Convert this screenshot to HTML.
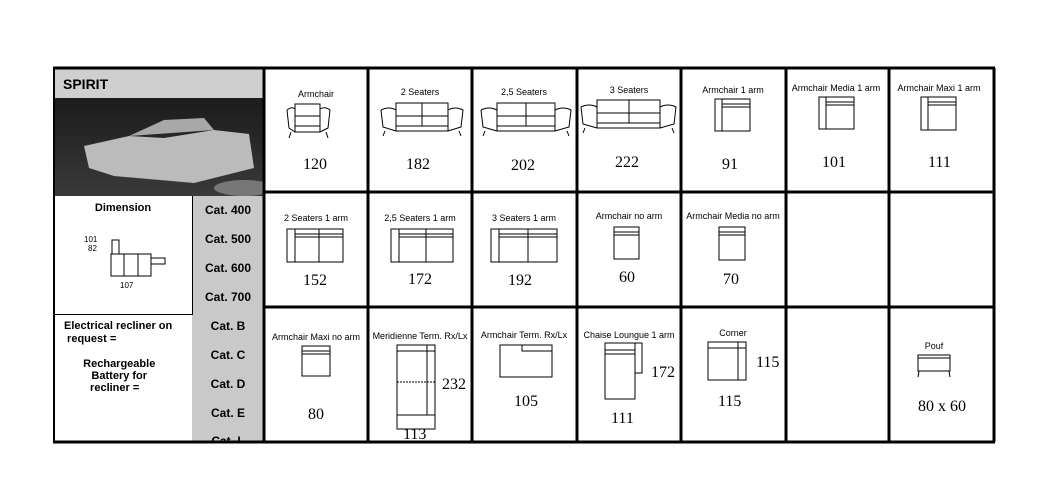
<!DOCTYPE html>
<html><head><meta charset="utf-8"><style>
body{margin:0;width:1043px;height:490px;background:#fff;position:relative;overflow:hidden;font-family:"Liberation Sans",sans-serif}
.a{position:absolute}
.lbl{position:absolute;font-size:9px;text-align:center;width:104px}
.num{position:absolute;font-family:"Liberation Serif",serif;font-size:16px}
.cat{position:absolute;left:0;width:72px;text-align:center;font-weight:bold;font-size:12px}
</style></head><body>
<div class="a" style="left:54px;top:69px;width:210px;height:29px;background:#cfcfcf"></div>
<div class="a" style="left:63px;top:76px;font-weight:bold;font-size:14px">SPIRIT</div>
<div class="a" style="left:54px;top:98px;width:210px;height:98px;background:linear-gradient(180deg,#1c1c1c,#2a2a2a 50%,#3a3a3a)"></div>
<svg class="a" style="left:54px;top:98px" width="210" height="98">
<path d="M30 48 L75 38 L110 40 L160 32 L195 36 L200 70 L140 85 L60 78 L35 70 Z" fill="#bbb"/>
<path d="M75 38 L110 22 L150 20 L160 32" fill="#a8a8a8"/>
<ellipse cx="190" cy="90" rx="30" ry="8" fill="#777"/>
</svg>
<div class="a" style="left:192px;top:196px;width:72px;height:246px;background:#c9c9c9;overflow:hidden">
<div class="cat" style="top:7px">Cat. 400</div>
<div class="cat" style="top:36px">Cat. 500</div>
<div class="cat" style="top:65px">Cat. 600</div>
<div class="cat" style="top:94px">Cat. 700</div>
<div class="cat" style="top:123px">Cat. B</div>
<div class="cat" style="top:152px">Cat. C</div>
<div class="cat" style="top:181px">Cat. D</div>
<div class="cat" style="top:210px">Cat. E</div>
<div class="cat" style="top:238px">Cat. L</div>
</div>
<div class="a" style="left:54px;top:196px;width:138px;height:118px;border-bottom:1px solid #000;border-right:1px solid #000"></div>
<div class="a" style="left:54px;top:202px;width:138px;text-align:center;font-weight:bold;font-size:11px">Dimension</div>
<svg class="a" style="left:84px;top:232px" width="90" height="60" font-size="8" font-family="Liberation Sans">
<text x="0" y="10">101</text><text x="4" y="19">82</text>
<rect x="27" y="22" width="40" height="22" fill="none" stroke="#000"/>
<line x1="40" y1="22" x2="40" y2="44" stroke="#000"/><line x1="54" y1="22" x2="54" y2="44" stroke="#000"/>
<rect x="28" y="8" width="7" height="14" fill="none" stroke="#000"/>
<rect x="67" y="26" width="14" height="6" fill="none" stroke="#000"/>
<text x="36" y="56">107</text>
</svg>
<div class="a" style="left:64px;top:320px;font-weight:bold;font-size:11px;line-height:13px">Electrical recliner on<br>&nbsp;request =</div>
<div class="a" style="left:74px;top:358px;font-weight:bold;font-size:11px;line-height:12px;text-align:center">&nbsp;&nbsp;&nbsp;Rechargeable<br>&nbsp;&nbsp;&nbsp;Battery for<br>recliner =</div>

<svg class="a" style="left:0;top:0" width="1043" height="490">
<g stroke="#000" stroke-width="3" fill="none">
<line x1="53" y1="68" x2="995" y2="68"/>
<line x1="264" y1="192" x2="995" y2="192"/>
<line x1="264" y1="307" x2="995" y2="307"/>
<line x1="53" y1="442" x2="995" y2="442"/>
<line x1="54" y1="68" x2="54" y2="442" stroke-width="2"/>
<line x1="264" y1="68" x2="264" y2="442"/>
<line x1="368" y1="68" x2="368" y2="442"/>
<line x1="472" y1="68" x2="472" y2="442"/>
<line x1="577" y1="68" x2="577" y2="442"/>
<line x1="681" y1="68" x2="681" y2="442"/>
<line x1="786" y1="68" x2="786" y2="442"/>
<line x1="889" y1="68" x2="889" y2="442"/>
<line x1="994" y1="68" x2="994" y2="442"/>
</g>
<g stroke="#000" stroke-width="1" fill="none">
<g transform="translate(287,104)"><rect x="8" y="0" width="25" height="12"/><rect x="8" y="12" width="25" height="10"/><path d="M0 6 Q5 2 8 5 L8 28 L33 28 L33 5 Q38 2 43 6 L41 24 L33 28 M0 6 L2 24 L8 28 M4 28 L2 34 M39 28 L41 34"/></g>
<g transform="translate(381,103)"><rect x="15" y="0" width="52" height="13"/><rect x="15" y="13" width="52" height="10"/><line x1="41" y1="0" x2="41" y2="23"/><path d="M0 7 Q8 3 15 7 L15 28 L67 28 L67 7 Q74 3 82 7 L80 24 L67 28 M0 7 L2 24 L15 28 M4 28 L2 33 M78 28 L80 33"/></g>
<g transform="translate(481,103)"><rect x="16" y="0" width="58" height="13"/><rect x="16" y="13" width="58" height="10"/><line x1="45" y1="0" x2="45" y2="23"/><path d="M0 7 Q8 3 16 7 L16 28 L74 28 L74 7 Q82 3 90 7 L88 24 L74 28 M0 7 L2 24 L16 28 M4 28 L2 33 M86 28 L88 33"/></g>
<g transform="translate(581,100)"><rect x="16" y="0" width="63" height="13"/><rect x="16" y="13" width="63" height="10"/><line x1="48" y1="0" x2="48" y2="23"/><path d="M0 7 Q8 3 16 7 L16 28 L79 28 L79 7 Q87 3 95 7 L93 24 L79 28 M0 7 L2 24 L16 28 M4 28 L2 33 M91 28 L93 33"/></g>
<g transform="translate(715,99)"><rect x="0" y="0" width="35" height="32"/><line x1="7" y1="0" x2="7" y2="32"/><line x1="7" y1="5" x2="35" y2="5"/><line x1="7" y1="8" x2="35" y2="8"/></g>
<g transform="translate(819,97)"><rect x="0" y="0" width="35" height="32"/><line x1="7" y1="0" x2="7" y2="32"/><line x1="7" y1="5" x2="35" y2="5"/><line x1="7" y1="8" x2="35" y2="8"/></g>
<g transform="translate(921,97)"><rect x="0" y="0" width="35" height="33"/><line x1="7" y1="0" x2="7" y2="33"/><line x1="7" y1="5" x2="35" y2="5"/><line x1="7" y1="8" x2="35" y2="8"/></g>
<g transform="translate(287,229)"><rect x="0" y="0" width="56" height="33"/><line x1="8" y1="0" x2="8" y2="33"/><line x1="32" y1="0" x2="32" y2="33"/><line x1="8" y1="5" x2="56" y2="5"/><line x1="8" y1="8" x2="56" y2="8"/></g>
<g transform="translate(391,229)"><rect x="0" y="0" width="62" height="33"/><line x1="8" y1="0" x2="8" y2="33"/><line x1="35" y1="0" x2="35" y2="33"/><line x1="8" y1="5" x2="62" y2="5"/><line x1="8" y1="8" x2="62" y2="8"/></g>
<g transform="translate(491,229)"><rect x="0" y="0" width="66" height="33"/><line x1="8" y1="0" x2="8" y2="33"/><line x1="37" y1="0" x2="37" y2="33"/><line x1="8" y1="5" x2="66" y2="5"/><line x1="8" y1="8" x2="66" y2="8"/></g>
<g transform="translate(614,227)"><rect x="0" y="0" width="25" height="32"/><line x1="0" y1="5" x2="25" y2="5"/><line x1="0" y1="8" x2="25" y2="8"/></g>
<g transform="translate(719,227)"><rect x="0" y="0" width="26" height="33"/><line x1="0" y1="5" x2="26" y2="5"/><line x1="0" y1="8" x2="26" y2="8"/></g>
<g transform="translate(302,346)"><rect x="0" y="0" width="28" height="30"/><line x1="0" y1="5" x2="28" y2="5"/><line x1="0" y1="8" x2="28" y2="8"/></g>
<g transform="translate(397,345)"><rect x="0" y="0" width="38" height="84"/><line x1="30" y1="0" x2="30" y2="70"/><line x1="0" y1="6" x2="38" y2="6"/><line x1="0" y1="37" x2="38" y2="37" stroke-dasharray="2,1"/><line x1="0" y1="70" x2="38" y2="70"/></g>
<g transform="translate(500,345)"><rect x="0" y="0" width="52" height="32"/><path d="M22 0 L22 6 L52 6"/></g>
<g transform="translate(605,343)"><rect x="0" y="0" width="30" height="56"/><rect x="30" y="0" width="7" height="30"/><line x1="0" y1="7" x2="30" y2="7"/><line x1="0" y1="11" x2="30" y2="11"/></g>
<g transform="translate(708,342)"><rect x="0" y="0" width="38" height="38"/><line x1="30" y1="0" x2="30" y2="38"/><line x1="0" y1="6" x2="38" y2="6"/></g>
<g transform="translate(918,355)"><rect x="0" y="0" width="32" height="16"/><line x1="0" y1="3" x2="32" y2="3"/><line x1="1" y1="16" x2="0" y2="22"/><line x1="31" y1="16" x2="32" y2="22"/></g>
</g>
</svg>
<div class="lbl" style="left:264px;top:89px">Armchair</div>
<div class="lbl" style="left:368px;top:87px">2 Seaters</div>
<div class="lbl" style="left:472px;top:87px">2,5 Seaters</div>
<div class="lbl" style="left:577px;top:85px">3 Seaters</div>
<div class="lbl" style="left:681px;top:85px">Armchair 1 arm</div>
<div class="lbl" style="left:784px;top:83px">Armchair Media 1 arm</div>
<div class="lbl" style="left:887px;top:83px">Armchair Maxi 1 arm</div>
<div class="num" style="left:303px;top:156px">120</div>
<div class="num" style="left:406px;top:156px">182</div>
<div class="num" style="left:511px;top:157px">202</div>
<div class="num" style="left:615px;top:154px">222</div>
<div class="num" style="left:722px;top:156px">91</div>
<div class="num" style="left:822px;top:154px">101</div>
<div class="num" style="left:928px;top:154px">111</div>
<div class="lbl" style="left:264px;top:213px">2 Seaters 1 arm</div>
<div class="lbl" style="left:368px;top:213px">2,5 Seaters 1 arm</div>
<div class="lbl" style="left:472px;top:213px">3 Seaters 1 arm</div>
<div class="lbl" style="left:577px;top:211px">Armchair no arm</div>
<div class="lbl" style="left:681px;top:211px">Armchair Media no arm</div>
<div class="num" style="left:303px;top:272px">152</div>
<div class="num" style="left:408px;top:271px">172</div>
<div class="num" style="left:508px;top:272px">192</div>
<div class="num" style="left:619px;top:269px">60</div>
<div class="num" style="left:723px;top:271px">70</div>
<div class="lbl" style="left:264px;top:332px">Armchair Maxi no arm</div>
<div class="lbl" style="left:368px;top:331px">Meridienne Term. Rx/Lx</div>
<div class="lbl" style="left:472px;top:330px">Armchair Term. Rx/Lx</div>
<div class="lbl" style="left:577px;top:330px">Chaise Loungue 1 arm</div>
<div class="lbl" style="left:681px;top:328px">Corner</div>
<div class="lbl" style="left:882px;top:341px">Pouf</div>
<div class="num" style="left:308px;top:406px">80</div>
<div class="num" style="left:442px;top:376px">232</div>
<div class="num" style="left:403px;top:426px">113</div>
<div class="num" style="left:514px;top:393px">105</div>
<div class="num" style="left:651px;top:364px">172</div>
<div class="num" style="left:611px;top:410px">111</div>
<div class="num" style="left:756px;top:354px">115</div>
<div class="num" style="left:718px;top:393px">115</div>
<div class="num" style="left:918px;top:398px">80 x 60</div>
</body></html>
